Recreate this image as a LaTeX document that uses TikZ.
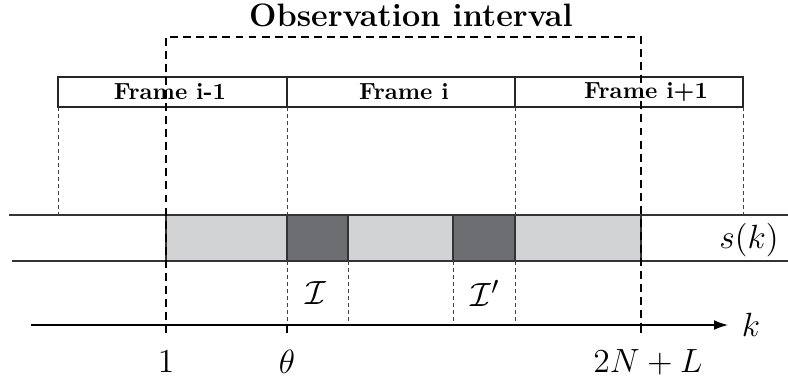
\documentclass[tikz,border=0pt]{standalone}
\usetikzlibrary{arrows.meta}
\definecolor{lightg}{HTML}{D1D3D4}
\definecolor{darkg}{HTML}{6D6E71}
\begin{document}
\begin{tikzpicture}[x=0.429pt,y=-0.429pt,
  frameline/.style={draw=black!85,line width=0.45pt},
  obsdash/.style={draw=black,line width=0.6pt,dash pattern=on 3.4pt off 2.2pt},
  thindash/.style={draw=black!75,line width=0.35pt,dash pattern=on 1.7pt off 1.3pt},
  sigline/.style={draw=black!80,line width=0.45pt},
  tickline/.style={draw=black,line width=1pt},
  framelabel/.style={font=\fontsize{10}{12}\selectfont\bfseries,inner sep=0pt},
  mathlabel/.style={font=\fontsize{15.5}{18}\selectfont,inner sep=0pt}]
\useasboundingbox (0,0) rectangle (788,382);
% signal band fills
\fill[lightg] (166,215) rectangle (641,261);
\draw[sigline,fill=darkg] (287,215) rectangle (348,261);
\draw[sigline,fill=darkg] (453,215) rectangle (515,261);
\draw[sigline] (166,215) -- (166,261);
\draw[sigline] (641,215) -- (641,261);
\draw[sigline] (9,215) -- (788,215);
\draw[sigline] (12,261) -- (788,261);
% frames
\draw[frameline] (58,77) rectangle (743,107);
\draw[frameline] (287,77) -- (287,107);
\draw[frameline] (515,77) -- (515,107);
\node[framelabel] (f1) at (170,92) {Frame i-1};
\node[framelabel] (f2) at (404,92) {Frame i};
\node[framelabel] (f3) at (646,92) {Frame i+1};
% thin dashed guides
\foreach \x in {58,287,515,743} \draw[thindash] (\x,107) -- (\x,215);
\draw[thindash] (287,261) -- (287,325);
\foreach \x in {348,453,515} \draw[thindash] (\x,261) -- (\x,325);
% observation interval
\node[font=\fontsize{13.9}{16}\selectfont\bfseries,inner sep=0pt] (obs) at (411,15) {Observation interval};
\draw[obsdash] (166,333) -- (166,37) -- (641,37) -- (641,333);
% axis
\coordinate (axs) at (31,325);
\coordinate (axe) at (728,325);
\draw[line width=0.6pt,-{Latex[length=6pt,width=4.2pt]}] (axs) -- (axe);
\foreach \x in {166,287,641} \draw[tickline] (\x,325) -- (\x,333);
\node[mathlabel] (k) at (751,325) {$k$};
\node[mathlabel] (one) at (166,362) {$1$};
\node[mathlabel] (theta) at (287,362) {$\theta$};
\node[mathlabel] (end) at (648,362) {$2N+L$};
\node[mathlabel] (I1) at (316,293) {$\mathcal{I}$};
\node[mathlabel] (I2) at (485,293) {$\mathcal{I}'$};
\node[mathlabel,anchor=east] (s) at (779,240) {$s(k)$};
\end{tikzpicture}
\end{document}
